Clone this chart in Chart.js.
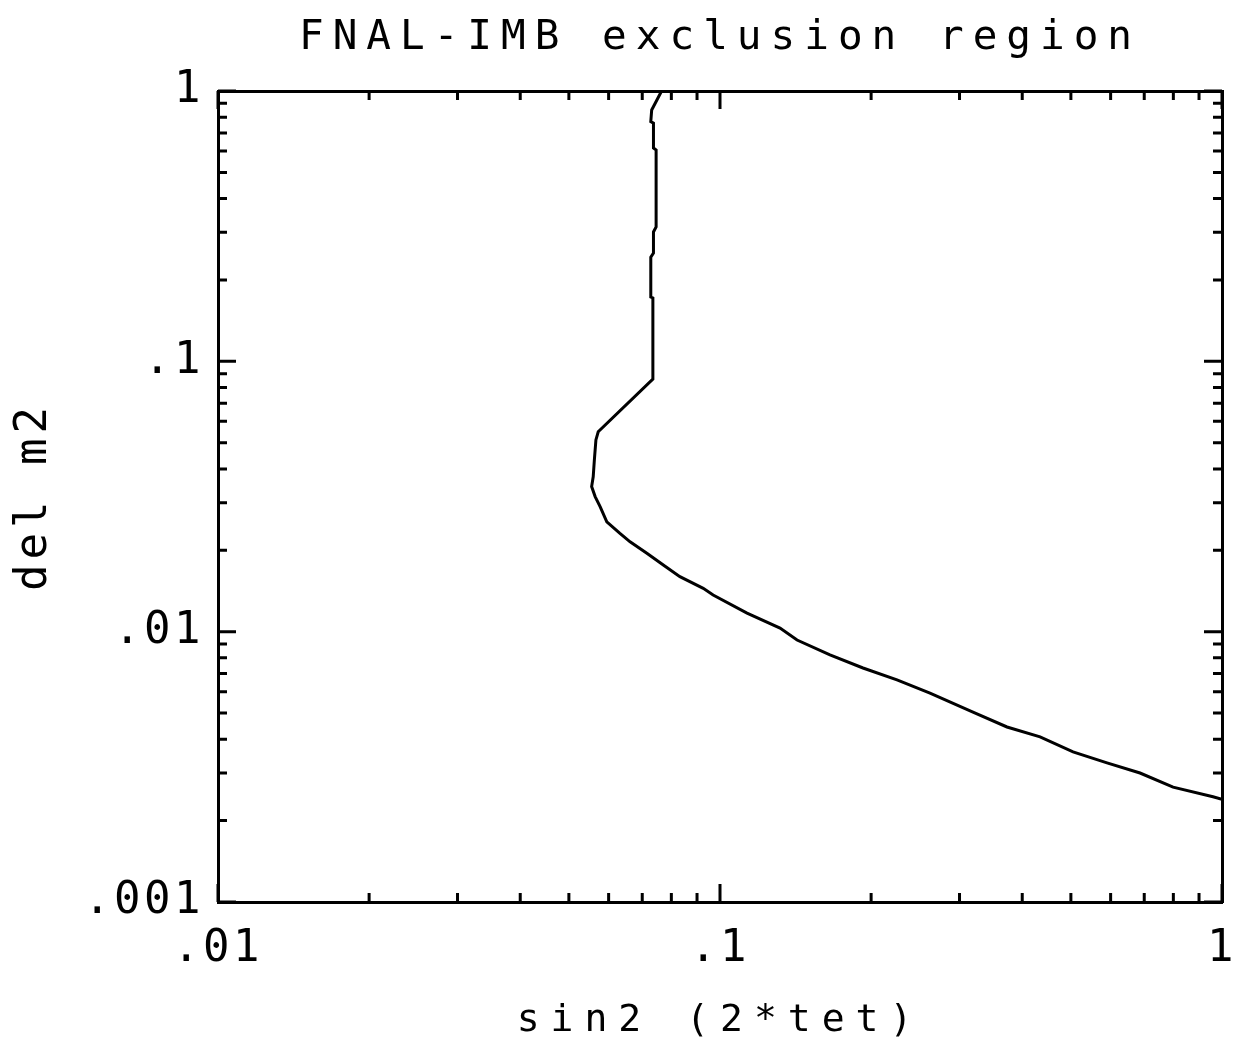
<!DOCTYPE html>
<html>
<head>
<meta charset="utf-8">
<script src="https://cdn.jsdelivr.net/npm/chart.js@4.4.1/dist/chart.umd.min.js"></script>
<style>
html,body{margin:0;padding:0;background:#fff;}
#wrap{width:1237px;height:1051px;position:relative;}
</style>
</head>
<body>
<div id="wrap"><canvas id="c"></canvas></div>
<script>
// ---- data ----
const sinValues = [0.0765, 0.0731, 0.0728, 0.0737, 0.0737, 0.0746, 0.0746, 0.0737, 0.0737, 0.0728, 0.0728, 0.0735, 0.0735,
  0.0572, 0.0566, 0.0562, 0.0559, 0.0555, 0.0564, 0.0577, 0.0595, 0.0632, 0.0662, 0.0715, 0.0771, 0.0832, 0.0926,
  0.0969, 0.1132, 0.1317, 0.1424, 0.1656, 0.1927, 0.2252, 0.2620, 0.3191, 0.3730, 0.4341, 0.5050, 0.5901, 0.6866,
  0.7990, 0.9596, 1.0];
const dmValues = [1.0, 0.851, 0.770, 0.761, 0.615, 0.605, 0.314, 0.301, 0.2517, 0.243, 0.173, 0.1715, 0.0860,
  0.0549, 0.0512, 0.0432, 0.0374, 0.0344, 0.0316, 0.0290, 0.0255, 0.0231, 0.0215, 0.0195, 0.01764, 0.01597, 0.01446,
  0.01366, 0.01172, 0.01031, 0.00931, 0.0082, 0.00734, 0.00663, 0.00593, 0.00504, 0.00444, 0.00408, 0.00359, 0.00327,
  0.00300, 0.00266, 0.00245, 0.00240];
const xTickValues = [0.01, 0.1, 1];
const xTickLabels = ['.01', '.1', '1'];
const yTickValues = [0.001, 0.01, 0.1, 1];
const yTickLabels = ['.001', '.01', '.1', '1'];
const minorMultipliers = [2, 3, 4, 5, 6, 7, 8, 9];
const titleText = 'FNAL-IMB exclusion region';
const xTitleText = 'sin2 (2*tet)';
const yTitleText = 'del m2';

const FONT = "'DejaVu Sans Mono', 'Liberation Mono', monospace";
const points = sinValues.map((v, i) => ({x: v, y: dmValues[i]}));

// letter spacing for plotter-like text
const spacingPlugin = {
  id: 'spacing',
  beforeDraw(chart) {
    const wrap = (obj, name, ls) => {
      if (!obj || obj['__w_' + name]) return;
      const f = obj[name];
      obj[name] = function (...a) {
        const c = chart.ctx;
        const o = c.letterSpacing;
        c.letterSpacing = ls;
        try { f.apply(this, a); } finally { c.letterSpacing = o; }
      };
      obj['__w_' + name] = true;
    };
    wrap(chart.scales.x, 'drawLabels', '3.5px');
    wrap(chart.scales.y, 'drawLabels', '3.5px');
    wrap(chart.scales.x, 'drawTitle', '11px');
    wrap(chart.scales.y, 'drawTitle', '5px');
    wrap(chart.titleBlock, 'draw', '9px');
  }
};

// inward tick marks on all four sides, placed through the scales
const tickPlugin = {
  id: 'inTicks',
  afterDraw(chart) {
    const {ctx, chartArea: a} = chart;
    const xs = chart.scales.x, ys = chart.scales.y;
    ctx.save();
    ctx.strokeStyle = '#000';
    ctx.lineWidth = 3;
    const MAJ = 18, MIN = 9;
    const list = (decades) => {
      const out = [];
      decades.forEach((d, i) => {
        out.push({v: d, major: true});
        if (i < decades.length - 1) minorMultipliers.forEach(m => out.push({v: m * d, major: false}));
      });
      return out;
    };
    list(xTickValues).forEach(t => {
      const px = xs.getPixelForValue(t.v);
      const len = t.major ? MAJ : MIN;
      ctx.beginPath();
      ctx.moveTo(px, a.bottom); ctx.lineTo(px, a.bottom - len);
      ctx.moveTo(px, a.top); ctx.lineTo(px, a.top + len);
      ctx.stroke();
    });
    list(yTickValues).forEach(t => {
      const py = ys.getPixelForValue(t.v);
      const len = t.major ? MAJ : MIN;
      ctx.beginPath();
      ctx.moveTo(a.left, py); ctx.lineTo(a.left + len, py);
      ctx.moveTo(a.right, py); ctx.lineTo(a.right - len, py);
      ctx.stroke();
    });
    ctx.restore();
  }
};

const border = {display: true, width: 3, color: '#000'};

new Chart(document.getElementById('c'), {
  type: 'scatter',
  data: {
    datasets: [{
      data: points,
      showLine: true,
      borderColor: '#000',
      borderWidth: 3,
      pointRadius: 0,
      tension: 0,
      fill: false
    }]
  },
  options: {
    responsive: true,
    maintainAspectRatio: false,
    animation: false,
    devicePixelRatio: 1,
    layout: {padding: 0},
    plugins: {
      legend: {display: false},
      tooltip: {enabled: false},
      title: {
        display: true,
        fullSize: false,
        text: titleText,
        color: '#000',
        font: {family: FONT, size: 41, weight: 'normal', lineHeight: 1.2},
        padding: {top: 14, bottom: 0}
      }
    },
    scales: {
      x: {
        type: 'logarithmic', position: 'bottom', min: 0.01, max: 1,
        grid: {display: false, drawTicks: false},
        border: border,
        afterBuildTicks: s => { s.ticks = xTickValues.map(v => ({value: v})); },
        ticks: {
          color: '#000', font: {family: FONT, size: 44, lineHeight: 1.2}, padding: 21,
          maxRotation: 0, autoSkip: false,
          callback: (v, i) => xTickLabels[i]
        },
        title: {
          display: true, text: xTitleText, color: '#000',
          font: {family: FONT, size: 38, lineHeight: 1.2}, padding: {top: 0, bottom: 7}
        },
        afterFit: s => { s.height = 149; s.paddingLeft = 0; s.paddingRight = 0; }
      },
      y: {
        type: 'logarithmic', position: 'left', min: 0.001, max: 1,
        grid: {display: false, drawTicks: false},
        border: border,
        afterBuildTicks: s => { s.ticks = yTickValues.map(v => ({value: v})); },
        ticks: {
          color: '#000', font: {family: FONT, size: 44, lineHeight: 1.2}, padding: 14,
          autoSkip: false,
          callback: (v, i) => yTickLabels[i]
        },
        title: {
          display: true, text: yTitleText, color: '#000',
          font: {family: FONT, size: 44, lineHeight: 1.2}, padding: {top: 8, bottom: 0}
        },
        afterFit: s => { s.width = 218; s.paddingTop = 0; s.paddingBottom = 0; }
      },
      x2: {
        type: 'logarithmic', position: 'top', min: 0.01, max: 1,
        grid: {display: false, drawTicks: false},
        border: border,
        ticks: {display: false},
        afterFit: s => { s.height = 27.8; s.paddingLeft = 0; s.paddingRight = 0; }
      },
      y2: {
        type: 'logarithmic', position: 'right', min: 0.001, max: 1,
        grid: {display: false, drawTicks: false},
        border: border,
        ticks: {display: false},
        afterFit: s => { s.width = 15; s.paddingTop = 0; s.paddingBottom = 0; }
      }
    }
  },
  plugins: [spacingPlugin, tickPlugin]
});
</script>
</body>
</html>
